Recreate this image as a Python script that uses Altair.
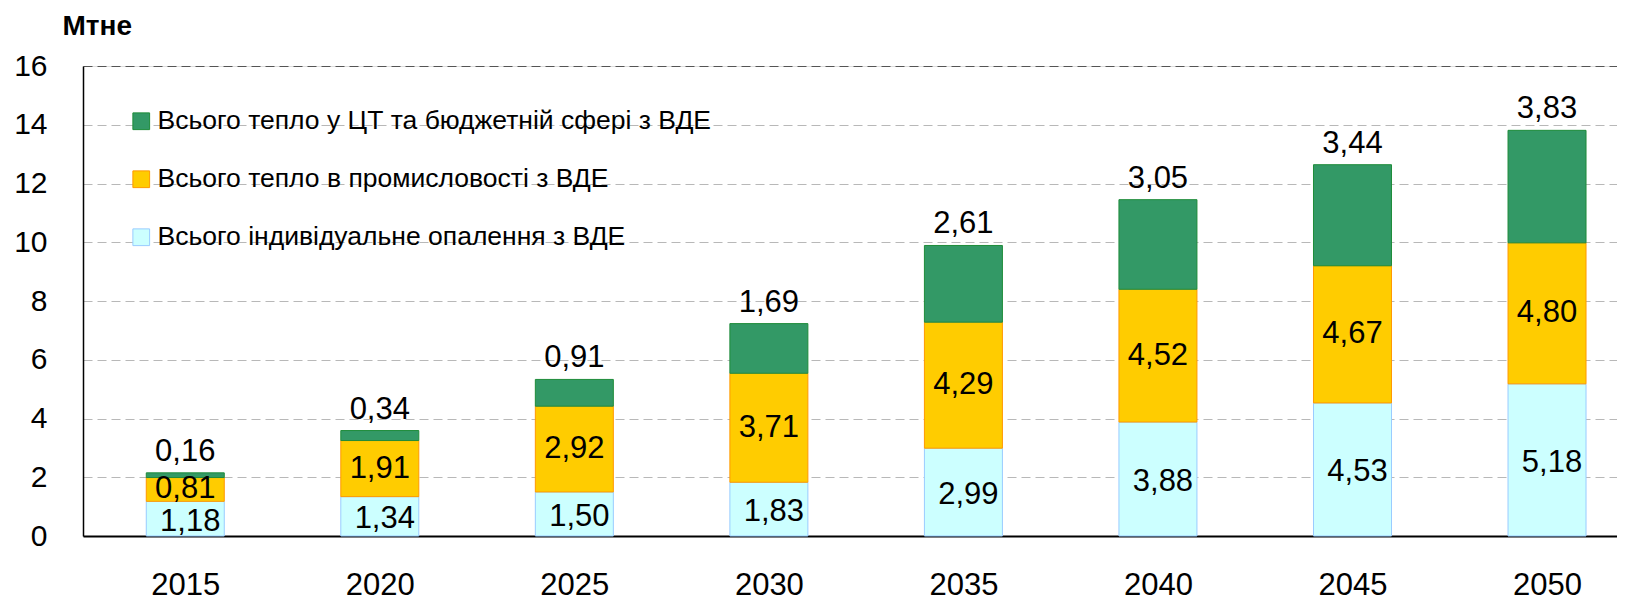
import altair as alt
import pandas as pd

years = [2015, 2020, 2025, 2030, 2035, 2040, 2045, 2050]
individual = [1.18, 1.34, 1.50, 1.83, 2.99, 3.88, 4.53, 5.18]
industry = [0.81, 1.91, 2.92, 3.71, 4.29, 4.52, 4.67, 4.80]
district = [0.16, 0.34, 0.91, 1.69, 2.61, 3.05, 3.44, 3.83]
series = [
    "Всього тепло у ЦТ та бюджетній сфері з ВДЕ",
    "Всього тепло в промисловості з ВДЕ",
    "Всього індивідуальне опалення з ВДЕ",
]
fills = ["#339966", "#FFCC00", "#CCFFFF"]
strokes = ["#1E8C3A", "#FF9900", "#99CCFF"]
y_ticks = list(range(0, 17, 2))
unit = "Мтне"

FONT = "Liberation Sans"

rows = []
for i, yr in enumerate(years):
    for name, vals, o in [(series[2], individual, 0), (series[1], industry, 1), (series[0], district, 2)]:
        rows.append({"year": yr, "series": name, "value": vals[i], "ord": o})
df = pd.DataFrame(rows)

base = (
    alt.Chart(df)
    .transform_stack(stack="value", groupby=["year"], sort=[alt.SortField("ord", order="ascending")], as_=["y0", "y1"])
    .transform_calculate(
        mid="(datum.y0 + datum.y1) / 2",
        lab="replace(format(datum.value, '.2f'), '.', ',')",
    )
)

xscale = alt.Scale(domain=[2012.5, 2051.67], nice=False, zero=False)
yscale = alt.Scale(domain=[0, 16], nice=False)

x_axis = alt.Axis(
    values=years, format="d", title=None, grid=False, ticks=False,
    labelFontSize=31, labelFont=FONT, labelColor="black", labelPadding=58,
    labelBaseline="alphabetic",
    domainColor="black", domainWidth=2,
)
y_axis = alt.Axis(
    values=y_ticks, format="d", ticks=False, labelFontSize=30, labelFont=FONT,
    labelColor="black", labelPadding=36, domainColor="black", domainWidth=1.5,
    grid=True, gridDash=[9, 5], gridWidth=1.2,
    gridColor={"condition": {"test": "datum.value === 16", "value": "#555555"}, "value": "#b8b8b8"},
    title=unit, titleAngle=0, titleX=-21, titleY=-32, titleAlign="left",
    titleBaseline="alphabetic", titleFontSize=28, titleFontWeight="bold", titleFont=FONT,
    titleColor="black",
)

legend = alt.Legend(
    title=None, orient="none", legendX=45, legendY=42, symbolType="square",
    symbolSize=280, symbolStrokeWidth=1, labelFontSize=26.5, labelFont=FONT,
    labelColor="black", rowPadding=31, labelOffset=3, padding=0, labelLimit=0,
)

bars = base.mark_bar(size=78, strokeWidth=1).encode(
    x=alt.X("year:Q", scale=xscale, axis=x_axis),
    y=alt.Y("y0:Q", scale=yscale, axis=y_axis),
    y2="y1:Q",
    fill=alt.Fill("series:N", scale=alt.Scale(domain=series, range=fills), legend=legend),
    stroke=alt.Stroke("series:N", scale=alt.Scale(domain=series, range=strokes), legend=legend),
)

top_labels = base.transform_filter(alt.datum.ord == 2).mark_text(
    fontSize=31, font=FONT, color="black", baseline="middle", dy=-21
).encode(x="year:Q", y="y1:Q", text="lab:N")

mid_labels = base.transform_filter(alt.datum.ord == 1).mark_text(
    fontSize=31, font=FONT, color="black", baseline="middle"
).encode(x="year:Q", y="mid:Q", text="lab:N")

low_labels = base.transform_filter(alt.datum.ord == 0).mark_text(
    fontSize=31, font=FONT, color="black", baseline="middle", dx=5, dy=3
).encode(x="year:Q", y="mid:Q", text="lab:N")

chart = (
    alt.layer(bars, top_labels, mid_labels, low_labels)
    .properties(
        width=1534, height=470,
        autosize=alt.AutoSizeParams(type="none"),
        padding={"left": 75, "top": 58, "right": 0, "bottom": 64},
    )
    .configure_view(stroke=None)
    .configure(background="white")
)

chart.save("out.html", embed_options={"renderer": "svg", "actions": False})
